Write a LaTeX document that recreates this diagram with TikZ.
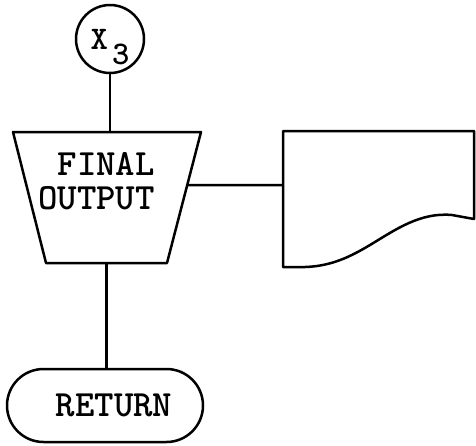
\documentclass[tikz,border=0pt]{standalone}
\usetikzlibrary{calc,shapes.misc}
\begin{document}
\begin{tikzpicture}[x=1pt,y=-1pt,line width=2.5pt,line join=round,
  ttext/.style={font=\fontsize{37}{34}\selectfont\ttfamily\bfseries,inner sep=0pt},
  conn/.style={draw,line width=2.5pt}]
\useasboundingbox (0,0) rectangle (476,445);
% connector X3
\node[circle,draw,minimum size=68pt,inner sep=0pt,
  font=\fontsize{33}{33}\selectfont\ttfamily\bfseries] (x3) at (110,39)
  {X\kern4pt\smash{\raisebox{-15pt}{3}}};
% trapezoid output
\coordinate (ttl) at (13,132);
\coordinate (ttr) at (201,132);
\coordinate (tbr) at (167,263);
\coordinate (tbl) at (46,263);
\draw (ttl) -- (ttr) -- (tbr) -- (tbl) -- cycle;
\node[ttext,align=left] (out) at (96.5,181) {\hphantom{O}FINAL\\OUTPUT};
\coordinate (ttop) at ($(ttl)!0.5!(ttr)$);
\coordinate (tbot) at ($(tbl)!0.5!(tbr)$);
\coordinate (tright) at ($(ttr)!0.405!(tbr)$);
% document
\coordinate (dtl) at (283,131);
\coordinate (dtr) at (474,131);
\coordinate (dbr) at (474,219);
\coordinate (dbl) at (283,267);
\coordinate (docw) at (283,185);
\draw (dbl) -- (dtl) -- (dtr) -- (dbr) -- (452,215)
  .. controls (420,212) and (395,230) .. (370,245)
  .. controls (345,260) and (325,268) .. (296,267) -- cycle;
% return terminal
\node[rounded rectangle,draw,minimum width=196pt,minimum height=73pt,inner sep=0pt,
  ttext] (ret) at (105,405.5) {\hspace*{18pt}RETURN};
% connectors
\draw[conn] (x3.south) -- (x3.south |- ttop);
\draw[conn] (tbot) -- (tbot |- ret.north);
\draw[conn] (tright) -- (docw);
\end{tikzpicture}
\end{document}
